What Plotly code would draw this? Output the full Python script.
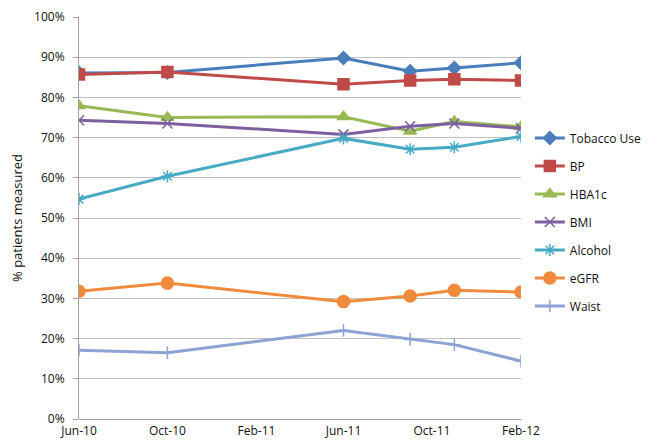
import plotly.graph_objects as go

dates = ["2010-06-01", "2010-10-01", "2011-06-01", "2011-09-01", "2011-11-01", "2012-02-01"]
tobacco = [86.1, 86.2, 89.8, 86.5, 87.3, 88.6]
bp = [85.7, 86.3, 83.3, 84.2, 84.5, 84.2]
hba1c = [77.9, 75.0, 75.2, 71.6, 74.0, 72.7]
bmi = [74.3, 73.5, 70.8, 72.8, 73.5, 72.3]
alcohol = [54.7, 60.4, 69.8, 67.1, 67.6, 70.3]
egfr = [31.8, 33.8, 29.2, 30.6, 32.0, 31.6]
waist = [17.1, 16.5, 22.0, 19.8, 18.5, 14.4]

series = [
    ("Tobacco Use", tobacco, "#4A7EBB", "diamond", 10),
    ("BP", bp, "#BE4B48", "square", 11),
    ("HBA1c", hba1c, "#98B954", "triangle-up", 11),
    ("BMI", bmi, "#7D60A0", "x-thin-open", 10),
    ("Alcohol", alcohol, "#46AAC5", "asterisk-open", 10),
    ("eGFR", egfr, "#F08A3C", "circle", 12),
    ("Waist", waist, "#8DA3D3", "cross-thin-open", 9),
]

fig = go.Figure()
for i, (name, vals, col, sym, sz) in enumerate(series):
    fig.add_trace(go.Scatter(
        x=dates, y=vals, name=name, mode="lines+markers",
        line=dict(color=col, width=3),
        marker=dict(symbol=sym, size=sz, color=col, line=dict(color=col, width=1.5)),
        legendgroup=f"g{i}",
    ))

font_family = "Open Sans, Liberation Sans, Arial, sans-serif"
fig.update_layout(
    width=650, height=440,
    margin=dict(l=71, r=137, t=9, b=27),
    paper_bgcolor="white", plot_bgcolor="white",
    font=dict(family=font_family, size=12, color="#111111"),
    showlegend=True,
    legend=dict(x=1.02, xanchor="left", y=0.735, yanchor="top",
                traceorder="grouped", tracegroupgap=9,
                font=dict(size=12, color="#111111"), bgcolor="rgba(0,0,0,0)"),
    xaxis=dict(
        type="date", range=["2010-06-01", "2012-02-01"],
        tick0="2010-06-01", dtick="M4", tickformat="%b-%y",
        showgrid=False, showline=False, zeroline=False,
        ticks="outside", ticklen=1, tickcolor="rgba(0,0,0,0)",
        ticklabeloverflow="allow",
        tickfont=dict(size=12, color="#111111"),
    ),
    yaxis=dict(
        range=[0, 100], dtick=10, ticksuffix="%",
        showgrid=True, gridcolor="#C0C0C0", gridwidth=1,
        showline=True, linecolor="#A0A0A0", linewidth=1,
        ticks="outside", ticklen=5, tickcolor="#A0A0A0",
        ticklabelstandoff=6, ticklabeloverflow="allow",
        zeroline=True, zerolinecolor="#A0A0A0", zerolinewidth=1,
        tickfont=dict(size=12, color="#111111"),
        automargin=False,
        title=dict(text="% patients measured", font=dict(size=13, color="#111111"), standoff=26),
    ),
)

fig.write_html("out.html")
